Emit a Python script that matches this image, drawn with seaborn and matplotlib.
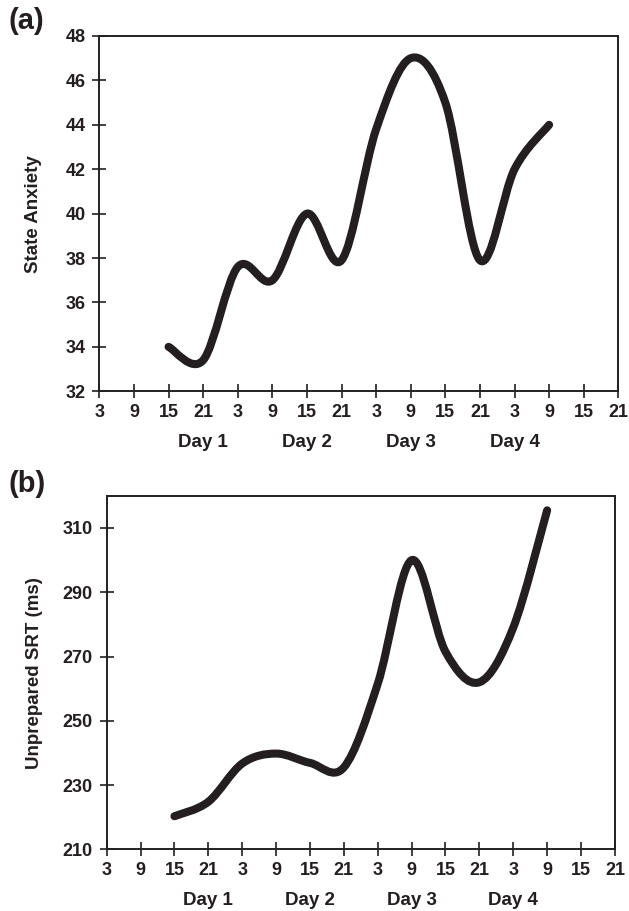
import matplotlib
matplotlib.use("Agg")
import matplotlib.pyplot as plt
import seaborn as sns
import numpy as np
from matplotlib.path import Path
from matplotlib.patches import PathPatch

times = [15, 21, 27, 33, 39, 45, 51, 57, 63, 69, 75, 81]
state_anxiety = [34.0, 33.4, 37.6, 37.0, 40.0, 37.9, 43.8, 47.0, 45.0, 37.9, 42.0, 44.0]
srt_ms = [220.3, 224.8, 236.7, 239.8, 236.9, 235.5, 261.5, 300.0, 271.5, 262.0, 279.0, 315.5]

tick_hours = [3 + 6 * i for i in range(16)]
tick_labels = ["3", "9", "15", "21"] * 4
day_labels = ["Day 1", "Day 2", "Day 3", "Day 4"]
day_positions = [21, 39, 57, 75]

sns.set_style("ticks")
plt.rcParams["font.family"] = ["Liberation Sans", "DejaVu Sans"]
plt.rcParams["font.weight"] = "bold"

ink = "#231f20"


def smooth_path(x, y):
    # Catmull-Rom curve through the points, drawn as cubic Bezier segments
    pts = np.column_stack([x, y]).astype(float)
    ext = np.vstack([pts[0], pts, pts[-1]])
    verts = [pts[0]]
    codes = [Path.MOVETO]
    for k in range(1, len(ext) - 2):
        p0, p1, p2, p3 = ext[k - 1], ext[k], ext[k + 1], ext[k + 2]
        verts += [p1 + (p2 - p0) / 6, p2 - (p3 - p1) / 6, p2]
        codes += [Path.CURVE4] * 3
    return Path(verts, codes)


def style_axes(ax, values, ylim, yticks, ylabel, label_x):
    ax.add_patch(PathPatch(smooth_path(times, values), facecolor="none",
                           edgecolor=ink, lw=5.8, capstyle="round", joinstyle="round"))
    ax.set_xlim(3, 93)
    ax.set_ylim(*ylim)
    ax.set_xticks(tick_hours)
    ax.set_xticklabels(tick_labels)
    ax.set_yticks(yticks)
    for s in ax.spines.values():
        s.set_visible(True)
        s.set_linewidth(1.4)
        s.set_color(ink)
    ax.tick_params(direction="inout", length=10, width=1.2, colors=ink,
                   labelsize=13)
    ax.tick_params(axis="x", pad=4)
    ax.tick_params(axis="y", pad=5)
    ax.set_ylabel(ylabel, fontsize=13.5, fontweight="bold", color=ink)
    ax.yaxis.set_label_coords(label_x, 0.5)
    for pos, lab in zip(day_positions, day_labels):
        ax.annotate(lab, xy=(pos, 0), xycoords=("data", "axes fraction"),
                    xytext=(0, -37), textcoords="offset points",
                    ha="center", va="center", fontsize=13.5,
                    fontweight="bold", color=ink)


fig = plt.figure(figsize=(6.29, 9.11), dpi=100)
ax1 = fig.add_axes([0.158, 0.5705, 0.825, 0.39])
ax2 = fig.add_axes([0.1696, 0.0677, 0.808, 0.388])

style_axes(ax1, state_anxiety, (32, 48), list(range(32, 49, 2)), "State Anxiety", -0.11)
style_axes(ax2, srt_ms, (210, 320), list(range(210, 311, 20)), "Unprepared SRT (ms)", -0.125)

fig.text(0.014, 0.977, "(a)", fontsize=21, fontweight="bold", va="center", color=ink)
fig.text(0.014, 0.469, "(b)", fontsize=21, fontweight="bold", va="center", color=ink)

fig.savefig("out.png", dpi=100, facecolor="white")
